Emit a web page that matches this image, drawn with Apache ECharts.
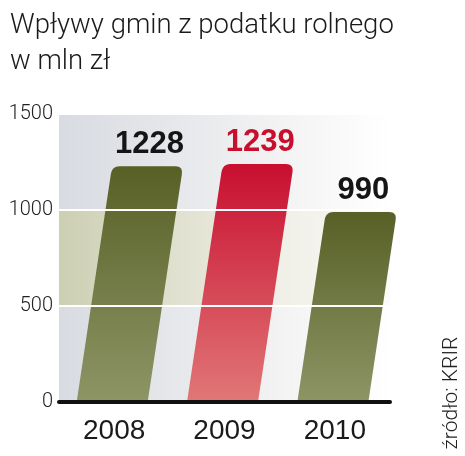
<!DOCTYPE html>
<html>
<head>
<meta charset="utf-8">
<script src="https://cdn.jsdelivr.net/npm/echarts@6/dist/echarts.min.js"></script>
<style>
html,body{margin:0;padding:0;background:#fff;}
#c{width:465px;height:456px;}
</style>
</head>
<body>
<div id="c"></div>
<script>
const categories = ['2008', '2009', '2010'];
const values = [1228, 1239, 990];
const highlighted = [false, true, false];
const yTickMin = 0, yTickMax = 1500, yTickStep = 500;
const bandRange = [500, 1000];
const titleText = 'Wpływy gmin z podatku rolnego';
const subtitleText = 'w mln zł';
const sourceText = 'źródło: KRIR';

const chart = echarts.init(document.getElementById('c'), null, {renderer: 'canvas'});

const BAR_W = 71, SKEW = 0.15, R = 8;
const olive = {top: '#586026', bottom: '#8d9566'};
const red = {top: '#c80f30', bottom: '#e17777'};

function quad(p0, c, p1, n, out) {
  for (let i = 0; i <= n; i++) {
    const t = i / n, u = 1 - t;
    out.push([u*u*p0[0] + 2*u*t*c[0] + t*t*p1[0], u*u*p0[1] + 2*u*t*c[1] + t*t*p1[1]]);
  }
}

function renderItem(params, api) {
  const idx = api.value(0), v = api.value(1);
  const p0 = api.coord([idx, 0]);
  const p1 = api.coord([idx, v]);
  const bx = p0[0] - 2, by = p0[1], ty = p1[1];
  const h = by - ty, dx = h * SKEW;
  const BL = [bx - BAR_W/2, by], BR = [bx + BAR_W/2, by];
  const TL = [bx - BAR_W/2 + dx, ty], TR = [bx + BAR_W/2 + dx, ty];
  const pts = [BL];
  quad([TL[0] - R*SKEW, ty + R], TL, [TL[0] + R, ty], 6, pts);
  quad([TR[0] - R, ty], TR, [TR[0] - R*SKEW, ty + R], 6, pts);
  pts.push(BR);
  const hl = highlighted[params.dataIndex];
  const c = hl ? red : olive;
  return {
    type: 'group',
    children: [
      {
        type: 'polygon',
        shape: {points: pts},
        style: {
          fill: new echarts.graphic.LinearGradient(0, 0, 0, 1, [
            {offset: 0, color: c.top}, {offset: 1, color: c.bottom}
          ])
        }
      },
      {
        type: 'text',
        x: bx + dx + 2, y: ty - 6,
        style: {
          text: String(v),
          x: 0, y: 0,
          align: 'center', verticalAlign: 'bottom',
          font: 'bold 31px "Liberation Sans", Arial, sans-serif',
          fill: hl ? '#c8102e' : '#151515'
        }
      }
    ]
  };
}

const option = {
  animation: false,
  title: {
    text: titleText + '\n' + subtitleText,
    left: 5, top: 3,
    textStyle: {
      fontFamily: 'Roboto', fontWeight: 300, fontSize: 27.5,
      color: '#1a1a1a', lineHeight: 36
    }
  },
  grid: {
    left: 59, right: 75, top: 114, bottom: 54,
    show: true, borderWidth: 0,
    backgroundColor: new echarts.graphic.LinearGradient(0, 0, 1, 0, [
      {offset: 0, color: '#d8dbe1'}, {offset: 0.65, color: '#f2f2f3'}, {offset: 1, color: '#ffffff'}
    ])
  },
  xAxis: {
    type: 'category',
    data: categories,
    z: 6,
    axisLine: {show: true, lineStyle: {color: '#111', width: 4}},
    axisTick: {show: false},
    axisLabel: {
      margin: 15,
      fontFamily: '"Liberation Sans", Arial, sans-serif',
      fontSize: 28, color: '#1a1a1a'
    }
  },
  yAxis: {
    type: 'value',
    min: yTickMin, max: yTickMax, interval: yTickStep,
    z: 5,
    axisLine: {show: false},
    axisTick: {show: false},
    splitLine: {show: true, lineStyle: {color: '#ffffff', width: 2}},
    axisLabel: {
      margin: 6,
      formatter: function (v) { return String(v); },
      fontFamily: 'Roboto', fontWeight: 300, fontSize: 20, color: '#222'
    }
  },
  graphic: [
    {
      type: 'text',
      x: 452, y: 393,
      rotation: Math.PI / 2,
      style: {
        text: sourceText,
        align: 'center', verticalAlign: 'middle',
        font: '300 21px Roboto',
        fill: '#222'
      }
    }
  ],
  series: [
    {
      type: 'line',
      data: [],
      z: 1,
      silent: true,
      markArea: {
        silent: true,
        itemStyle: {
          color: new echarts.graphic.LinearGradient(0, 0, 1, 0, [
            {offset: 0, color: '#cdcfb3'}, {offset: 0.65, color: '#efefe6'}, {offset: 1, color: '#fbfbf8'}
          ])
        },
        data: [[{yAxis: bandRange[0]}, {yAxis: bandRange[1]}]]
      }
    },
    {
      type: 'custom',
      z: 2,
      renderItem: renderItem,
      data: values.map((v, i) => [i, v])
    }
  ]
};
chart.setOption(option);
</script>
</body>
</html>
